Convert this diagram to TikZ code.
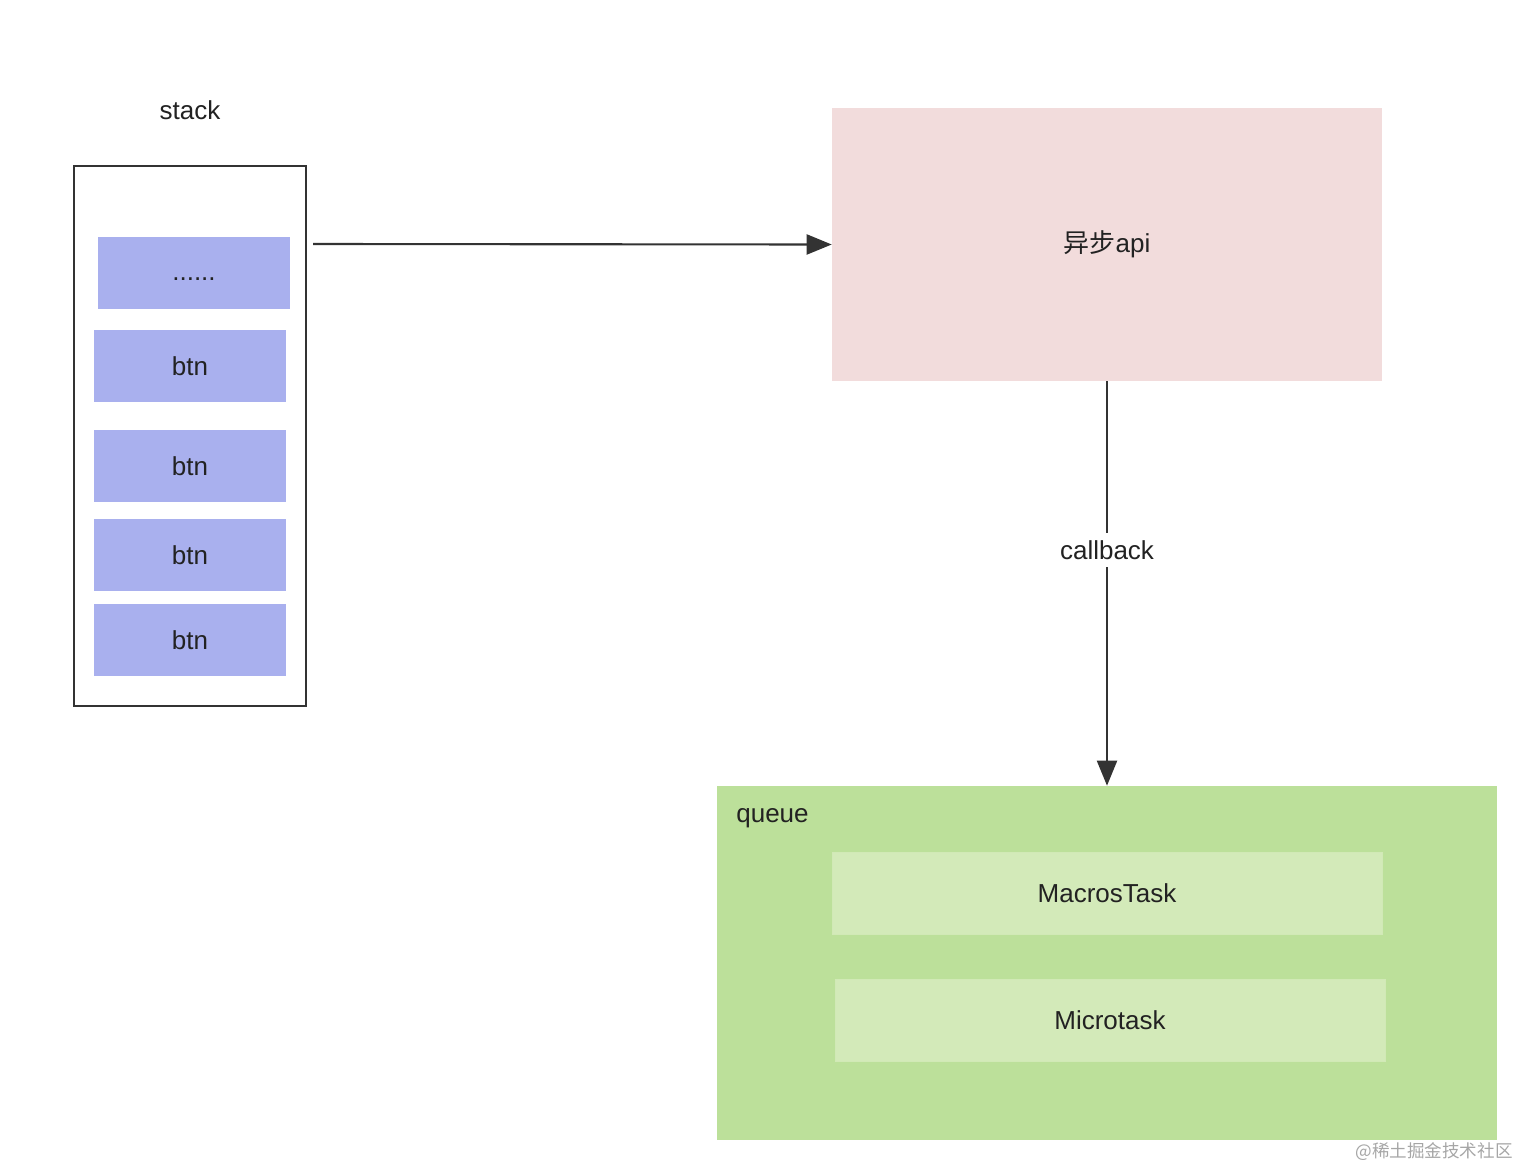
\documentclass[tikz,border=0pt]{standalone}
\usepackage{fontspec}
\setmainfont{Liberation Sans}
\newfontfamily\cjk{Noto Sans CJK SC}
\usetikzlibrary{arrows.meta}
\definecolor{framecol}{HTML}{333333}
\definecolor{btnblue}{HTML}{A9B0EE}
\definecolor{apipink}{HTML}{F2DCDC}
\definecolor{queuegreen}{HTML}{BCE09A}
\definecolor{taskgreen}{HTML}{D3EAB9}
\definecolor{txtcol}{HTML}{222222}

\begin{document}
\begin{tikzpicture}[x=0.02cm,y=-0.02cm,
    font=\fontsize{14.8}{17}\selectfont, text=txtcol,
    btnbox/.style={fill=btnblue, inner sep=0pt, minimum width=3.84cm, minimum height=1.44cm},
    taskbox/.style={fill=taskgreen, draw=taskgreen!90!queuegreen, inner sep=0pt, minimum width=11cm, minimum height=1.64cm},
    flow/.style={draw=framecol, line width=1.2pt, -{Triangle[length=0.5cm,width=0.4cm]}}]
    \useasboundingbox (0,0) rectangle (1520,1170);

    % stack
    \node (stacklabel) at (190,110) {stack};
    \node[draw=framecol, line width=1.4pt, inner sep=0pt, minimum width=4.64cm, minimum height=10.8cm] (stack) at (190,436) {};
    \node[btnbox, text depth=0pt, text height=8pt] (dots) at (194,273) {......};
    \node[btnbox] (btn1) at (190,366) {btn};
    \node[btnbox] (btn2) at (190,466) {btn};
    \node[btnbox] (btn3) at (190,555) {btn};
    \node[btnbox] (btn4) at (190,640) {btn};

    % async api
    \node[fill=apipink, inner sep=0pt, minimum width=11cm, minimum height=5.46cm] (api) at (1107,244.5) {{\cjk 异步}api};
    \coordinate (from) at (313,244);
    \draw[flow] (from) -- (api.west);

    % queue
    \node[fill=queuegreen, inner sep=0pt, minimum width=15.6cm, minimum height=7.08cm] (queue) at (1107,963) {};
    \node[anchor=west, inner sep=0pt] (queuelabel) at (736,818) {queue};
    \node[taskbox] (macro) at (1107,893) {MacrosTask};
    \node[taskbox] (micro) at (1110,1020) {Microtask};

    \draw[flow] (api.south) -- node[pos=0.417, fill=white, inner sep=4pt] (cb) {callback} (queue.north);

    \node[text=black!35, font=\cjk\fontsize{10}{12}\selectfont] (mark) at (1434,1152) {@稀土掘金技术社区};
\end{tikzpicture}
\end{document}
